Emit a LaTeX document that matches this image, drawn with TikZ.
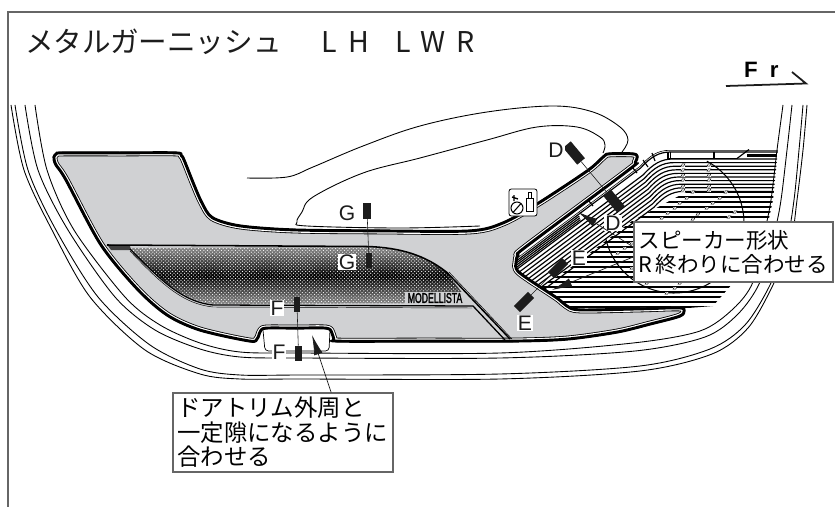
\documentclass[tikz,border=0pt]{standalone}
\usepackage{fontspec}
\usepackage{graphicx}
\usetikzlibrary{calc,patterns,arrows.meta}
\setmainfont{Liberation Sans}
\newfontfamily\jpf{Noto Sans CJK JP}
\newfontfamily\jpw[LetterSpace=40]{Noto Sans CJK JP}
\newfontfamily\brandf[FakeBold=2.5]{Liberation Sans}
\definecolor{garn}{HTML}{D0D1D3}
\definecolor{ink}{HTML}{1C1C1C}
\definecolor{boxline}{HTML}{666666}
\def\garnpath{plot[smooth cycle,tension=.5] coordinates {(53,157)(56,153)(62,152)(120,152)(176,152)(182,155)(185,160)(195,185)(203,203)(213,217)(240,225)(293,229)(380,230)(470,230)(503,222)(537,203)(587,170)(603,156)(609,153)(633,153)(638,156)(636,163)(630,170)(527,247)(519,255)(517,262)(520,272)(557,297)(567,305)(580,309)(640,308)(680,307)(685,311)(680,317)(650,325)(617,333)(567,340)(513,342)(425,342)(337,342)(333,339)(331,333)(326,329)(296,329)(266,329)(261,332)(258,339)(250,342)(200,331)(167,316)(137,290)(100,245)(65,180)(55,165)}}
\tikzset{
  thinl/.style={draw=black,line width=.75pt},
  framel/.style={draw=boxline,line width=1.1pt},
  stripe/.style={draw=black,line width=1pt},
  winl/.style={draw=black,line width=.75pt},
  labbox/.style={draw=boxline,fill=white,line width=.9pt,inner xsep=.09cm,inner ysep=0pt,anchor=center,font=\jpf,align=left},
  seclab/.style={fill=white,inner sep=.03cm,text=ink,font=\fontsize{18}{18}\selectfont},
  marker/.style={fill=ink,inner sep=0pt},
  leader/.style={draw=ink,line width=.6pt,-{Latex[length=.6cm,width=.26cm]}},
  secline/.style={draw=ink,line width=.5pt}
}
\begin{document}
\begin{tikzpicture}[x=.03cm,y=-.03cm]
\useasboundingbox (0,0) rectangle (835,507);
\fill[white] (0,0) rectangle (835,507);
% frame
\draw[framel] (835,12) -- (8,12) -- (8,507);
% title
\node[anchor=west,inner sep=0pt,text=ink,font=\jpf\fontsize{24.4}{24.4}\selectfont] (title) at (25,42) {メタルガーニッシュ};
\node[anchor=west,inner sep=0pt,text=ink,font=\jpw\fontsize{24.4}{24.4}\selectfont] (lh) at (321,42) {LH};
\node[anchor=west,inner sep=0pt,text=ink,font=\jpw\fontsize{24.4}{24.4}\selectfont] (lwr) at (395,42) {LWR};
% Fr
\node[anchor=base west,inner sep=0pt,font=\bfseries\fontsize{19}{19}\selectfont] (fr) at (744,78) {F\hspace{.36cm}r};
\coordinate (fra) at (726,86);
\coordinate (frb) at (806,83.5);
\coordinate (frc) at (792,72);
\draw[line width=1.5pt,draw=ink] (fra) -- (frb) -- (frc);
% door lines
\draw[thinl] plot[smooth,tension=.5] coordinates {(35,105)(47,170)(74,230)(125,297)(160,325)(200,343)(240,352)(300,353)(500,353)(633,343)(700,331)(733,309)(753,282)(765,230)(771,200)(777,150)(783,105)};
\draw[thinl] plot[smooth,tension=.5] coordinates {(25,105)(38,170)(68,230)(115,297)(155,330)(200,349)(240,357)(300,358)(500,358)(635,351)(705,337)(738,314)(760,282)(775,230)(781,200)(787,150)(792,105)};
\draw[thinl] plot[smooth,tension=.5] coordinates {(15,105)(28,170)(56,230)(98,297)(150,345)(200,369)(240,375)(300,375)(500,374)(640,366)(710,349)(745,325)(770,285)(787,240)(794,200)(799,150)(803,105)};
\draw[thinl] plot[smooth,tension=.5] coordinates {(11,105)(24,170)(52,230)(90,297)(145,350)(200,374)(240,379)(300,379)(500,379)(640,371)(712,354)(748,328)(773,285)(791,240)(797,200)(803,150)(807,105)};
% windows
\draw[winl] plot[smooth,tension=.6] coordinates {(247,178)(287,177)(313,167)(363,146)(420,126)(487,112)(553,106)(593,112)(620,127)(628,140)(622,152)};
\draw[winl] plot[smooth,tension=.6] coordinates {(480,226)(400,228)(307,226)(297,222)(302,212)(313,197)(363,173)(420,158)(487,140)(537,127)(577,127)(600,137)(605,145)(603,153)};
% speaker hatch
\begin{scope}
\clip (778,150) -- (670,150) .. controls (658,150) and (650,155) .. (640,166) -- (450,308) -- (540,320) -- (713,306) -- (740,275) -- (768,223) -- (773,200) -- cycle;
\foreach \d in {0,2,9,12.6,...,42}{
  \draw[stripe,shift={({\d/3},\d)}] (800,150) -- (670,150) .. controls (658,150) and (650,155) .. (640,166) -- (450,308);
}
\foreach \d in {3.6,5.4,7.2}{
  \draw[stripe,shift={({\d/3},\d)}] (578,212.5) -- (450,308);
}
\clip (690,190) -- (800,190) -- (800,320) -- (520,320) -- (520,300) -- (570,268) -- (632,221) -- cycle;
\foreach \y in {192,197,...,307}{
  \draw[stripe,line width=1.25pt] (500,\y) -- (800,\y);
}
\end{scope}
% upper band
\draw[stripe] (668,158.5) -- (738,158.5);
\draw[stripe] (668,151.5) -- (668,158.5) (670.5,151.5) -- (670.5,158.5) (714,151.5) -- (714,158.5);
\draw[stripe] (737,158.5) -- (749,149.5);
\draw[stripe,line width=1.8pt] (747,155.5) -- (777,155.5);
\draw[stripe] (652,153) -- (655,161) (643,160) -- (648,167);
% speaker circle
\draw[black,line width=.9pt] plot[samples=70,domain=-62:167] ({674+70*cos(\x)},{223+70*sin(\x)});
% ticks
\foreach \a/\b in {683/165,683/170,683/175,683/180,683/186,683/190,709/165,709/170,709/175,709/180,709/186,709/190,693/192,726/192,687/198,720/198,680/203,713/203,675/208,707/208,735/212,668/213,698/214,729/217,662/218,693/219,632/243,625/248,618/253,632/268,647/283,680/283,675/288,667/293}{
  \fill[white] (\a-2,\b-1.5) rectangle (\a+2,\b+1.5);
  \draw[black,line width=.35pt] (\a-2,\b+1.2) -- (\a-.6,\b-1.2) -- (\a+2,\b-1.2) -- (\a+.6,\b+1.2) -- cycle;
}
% cross bars in white strip
\draw[stripe] (632,167) -- (637,173) (588,200) -- (593,206);
% dent box
\draw[black,line width=.6pt,rounded corners=3pt,fill=white] (263,330) -- (265,351) -- (329,351) -- (330,330);
% garnish
\fill[garn] \garnpath;
\begin{scope}
\clip \garnpath;
\draw[black,line width=7.4pt,line join=round] \garnpath;
\draw[white,line width=6pt,line join=round] \garnpath;
\draw[black,line width=4pt,line join=round] \garnpath;
\end{scope}
\draw[black,line width=1pt,line join=round] \garnpath;
% dotted panel
\path[top color=black!45,bottom color=black!45,middle color=black] (130,248) -- (367,247) .. controls (400,248) and (425,255) .. (447,273) -- (470,303) -- (213,304) .. controls (185,300) and (165,285) .. (130,248) -- cycle;
\fill[pattern=crosshatch dots,pattern color=white] (130,248) -- (367,247) .. controls (400,248) and (425,255) .. (447,273) -- (470,303) -- (213,304) .. controls (185,300) and (165,285) .. (130,248) -- cycle;
\fill[garn] (405,292) rectangle (470,304);
\node[inner sep=0pt,font=\brandf\fontsize{12}{12}\selectfont] (brand) at (435,298) {\scalebox{.62}[1]{MODELLISTA}};
% band lines
\fill[black!75] (107,244.5) -- (130,246) -- (131,250) -- (111,250) -- cycle;
\draw[black,line width=1.3pt] (107,245) -- (367,246.5) .. controls (400,247.5) and (425,255) .. (447,272.5) -- (510,339);
\draw[black,line width=1.1pt] (130,249) .. controls (165,285) and (185,302) .. (213,305) -- (473,306) -- (505,340);
\draw[black,line width=.4pt] (130,251) .. controls (165,288) and (185,304) .. (213,307) -- (472,308);
\draw[black,line width=.4pt] (449,272) -- (512,339);
% markers
\node[marker,minimum width=.22cm,minimum height=.48cm] (g1) at (367,211) {};
\node[marker,minimum width=.2cm,minimum height=.46cm] (g2) at (369,260.5) {};
\node[marker,minimum width=.3cm,minimum height=.66cm,rotate=40] (d1) at (574,153) {};
\node[marker,minimum width=.3cm,minimum height=.66cm,rotate=40] (d2) at (614,201) {};
\node[marker,minimum width=.26cm,minimum height=.6cm,rotate=-45] (e1) at (558,268) {};
\node[marker,minimum width=.26cm,minimum height=.6cm,rotate=-45] (e2) at (524,302) {};
\node[marker,minimum width=.18cm,minimum height=.46cm] (f1) at (297,304.5) {};
\node[marker,minimum width=.2cm,minimum height=.46cm] (f2) at (298.5,353.5) {};
\draw[secline] (g1) -- (g2);
\draw[secline] (d1) -- (d2);
\draw[secline] (e1) -- (e2);
\draw[secline] (f1) -- (f2);
% section labels
\node[seclab] (lg1) at (347,213) {G};
\node[seclab] (lg2) at (347,262) {G};
\node[seclab] (ld1) at (556,150) {D};
\node[seclab] (ld2) at (613,223) {D};
\node[seclab] (le1) at (579,258) {E};
\node[seclab] (le2) at (525,323) {E};
\node[seclab] (lf1) at (277,308) {F};
\node[seclab] (lf2) at (279,352) {F};
% icon
\draw[black,line width=.7pt,rounded corners=2pt,fill=white] (509,189) rectangle (537,216);
\draw[black,line width=.9pt] (517,208) circle (6);
\draw[black,line width=.9pt] (513,212.5) -- (521,203.5);
\draw[black,line width=.8pt] (526,198) rectangle (533,211);
\draw[black,line width=.8pt] (528,192.5) rectangle (531,198);
\draw[black,line width=1.1pt] (512,197) -- (518,199) (514,195) -- (514,201);
% boxes
\node[labbox,minimum width=5.97cm,minimum height=1.8cm,text width=5.7cm,font=\jpf\fontsize{18.4}{20.5}\selectfont] (boxa) at (733.5,252) {スピーカー形状\\R\hspace{.1cm}終わりに合わせる};
\node[labbox,minimum width=6.6cm,minimum height=2.37cm,text width=6.35cm,font=\jpf\fontsize{20}{20.9}\selectfont] (boxb) at (283,432.5) {ドアトリム外周と\\一定隙になるように\\合わせる};
% leaders
\coordinate (tipa) at (578,212);
\coordinate (tipb) at (552,290);
\coordinate (tipc) at (312,335);
\draw[leader] ($(boxa.north west)!.42!(boxa.south west)$) -- (tipa);
\draw[leader] ($(boxa.north west)!.58!(boxa.south west)$) -- (tipb);
\draw[leader] ($(boxb.north west)!.718!(boxb.north east)$) -- (tipc);
\end{tikzpicture}
\end{document}
